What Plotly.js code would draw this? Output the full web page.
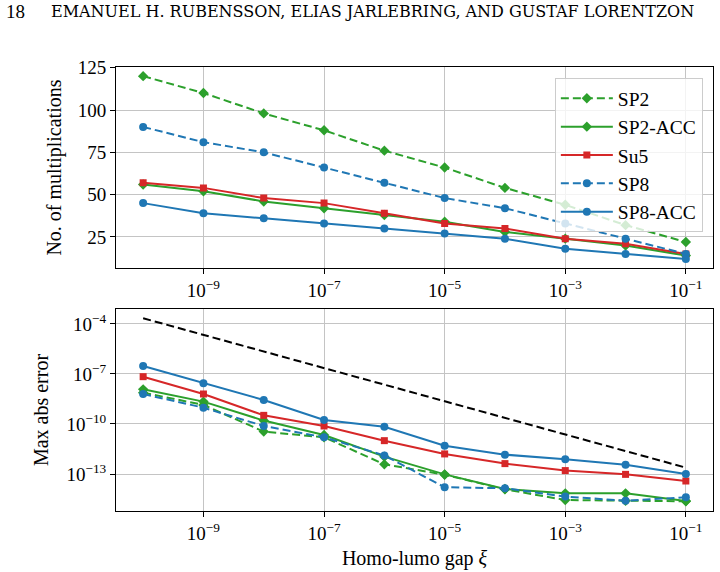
<!DOCTYPE html>
<html><head><meta charset="utf-8">
<script src="https://cdn.plot.ly/plotly-3.0.1.min.js"></script>
<style>html,body{margin:0;padding:0;background:#fff}#chart{width:720px;height:572px}</style>
</head><body><div id="chart"></div>
<script>
// Homo-lumo gap values (x)
const gap = [1e-10, 1e-9, 1e-8, 1e-7, 1e-6, 1e-5, 1e-4, 1e-3, 1e-2, 1e-1];

// Number of multiplications (top panel)
const multSP2    = [120, 110, 98, 88, 76, 66, 54, 44, 32, 22];
const multSP2ACC = [56, 52, 46, 42, 38, 34, 28, 24, 20, 14];
const multSu5    = [57, 54, 48, 45, 39, 33, 30, 24, 21, 15];
const multSP8    = [90, 81, 75, 66, 57, 48, 42, 33, 24, 15];
const multSP8ACC = [45, 39, 36, 33, 30, 27, 24, 18, 15, 12];

// Max abs error (bottom panel)
const errSP2    = [7.6e-9, 1.4e-9, 3.5e-11, 1.6e-11, 3.8e-13, 9.1e-14, 1.2e-14, 2.75e-15, 2.5e-15, 2.3e-15];
const errSP2ACC = [1.2e-8, 2.2e-9, 1.6e-10, 2.2e-11, 1.1e-12, 9.5e-14, 1.26e-14, 6.9e-15, 6.9e-15, 2.4e-15];
const errSu5    = [6.9e-8, 6.3e-9, 3.3e-10, 7.6e-11, 1.0e-11, 1.6e-12, 4.2e-13, 1.6e-13, 9.5e-14, 3.8e-14];
const errSP8    = [6.3e-9, 9.5e-10, 7.6e-11, 1.6e-11, 1.3e-12, 1.6e-14, 1.4e-14, 4.4e-15, 2.5e-15, 4.0e-15];
const errSP8ACC = [3.0e-7, 2.75e-8, 2.75e-9, 1.74e-10, 6.9e-11, 5.0e-12, 1.45e-12, 7.6e-13, 3.6e-13, 1.0e-13];
const errRef    = [2.2e-4, 2.2e-5, 2.2e-6, 2.2e-7, 2.2e-8, 2.2e-9, 2.2e-10, 2.2e-11, 2.2e-12, 2.4e-13];

// Labels
const seriesNames = ['SP2', 'SP2-ACC', 'Su5', 'SP8', 'SP8-ACC'];
const xTickVals = [1e-9, 1e-7, 1e-5, 1e-3, 1e-1];
const xTickText = ['10<sup>−9</sup>', '10<sup>−7</sup>', '10<sup>−5</sup>', '10<sup>−3</sup>', '10<sup>−1</sup>'];
const yTopTicks = [25, 50, 75, 100, 125];
const yBotTickVals = [1e-13, 1e-10, 1e-7, 1e-4];
const yBotTickText = ['10<sup>−13</sup>', '10<sup>−10</sup>', '10<sup>−7</sup>', '10<sup>−4</sup>'];
const headerPage = '18';
const headerText = 'EMANUEL H. RUBENSSON, ELIAS JARLEBRING, AND GUSTAF LORENTZON';

const blue = '#1f77b4', green = '#2ca02c', red = '#d62728';
const styles = [
  {color: green, dash: '8px,4px', symbol: 'diamond', size: 8},
  {color: green, dash: 'solid', symbol: 'diamond', size: 8},
  {color: red, dash: 'solid', symbol: 'square', size: 7},
  {color: blue, dash: '8px,4px', symbol: 'circle', size: 8},
  {color: blue, dash: 'solid', symbol: 'circle', size: 8}
];
const topData = [multSP2, multSP2ACC, multSu5, multSP8, multSP8ACC];
const botData = [errSP2, errSP2ACC, errSu5, errSP8, errSP8ACC];

const traces = [];
topData.forEach((d, i) => {
  const s = styles[i];
  traces.push({
    x: gap, y: d, name: seriesNames[i], type: 'scatter', mode: 'lines+markers',
    xaxis: 'x', yaxis: 'y', legendgroup: 'g' + i,
    line: {color: s.color, width: 2, dash: s.dash},
    marker: {color: s.color, symbol: s.symbol, size: s.size}
  });
});
botData.forEach((d, i) => {
  const s = styles[i];
  traces.push({
    x: gap, y: d, name: seriesNames[i], type: 'scatter', mode: 'lines+markers',
    xaxis: 'x2', yaxis: 'y2', showlegend: false, legendgroup: 'g' + i,
    line: {color: s.color, width: 2, dash: s.dash},
    marker: {color: s.color, symbol: s.symbol, size: s.size}
  });
});
traces.push({
  x: gap, y: errRef, type: 'scatter', mode: 'lines', xaxis: 'x2', yaxis: 'y2',
  showlegend: false, line: {color: '#000', width: 2, dash: '8px,4px'}
});

const fam = '"Liberation Serif", "Times New Roman", serif';
const font = {family: fam, size: 19, color: '#000'};
const titleFont = {family: fam, size: 20, color: '#000'};
const gridc = '#c4c4c4';
const axisCommon = {
  showline: true, mirror: true, linecolor: '#000', linewidth: 1,
  ticks: 'outside', ticklen: 5, tickwidth: 1, tickcolor: '#000',
  showgrid: true, gridcolor: gridc, gridwidth: 1, zeroline: false,
  tickfont: font
};

const layout = {
  width: 720, height: 572,
  margin: {l: 116, r: 7, t: 67, b: 61},
  paper_bgcolor: '#fff', plot_bgcolor: '#fff',
  font: font,
  showlegend: true,
  legend: {
    x: 0.983, y: 0.975, xanchor: 'right', yanchor: 'top',
    bgcolor: 'rgba(255,255,255,0.8)', bordercolor: '#cccccc', borderwidth: 1,
    font: {family: fam, size: 19.5, color: '#000'}, traceorder: 'grouped', tracegroupgap: 0,
    itemwidth: 52
  },
  xaxis: Object.assign({}, axisCommon, {
    type: 'log', range: [-10.45, -0.55], anchor: 'y', domain: [0, 1],
    tickvals: xTickVals, ticktext: xTickText
  }),
  yaxis: Object.assign({}, axisCommon, {
    range: [6.6, 125.4], domain: [0.547, 1], anchor: 'x',
    tickvals: yTopTicks,
    title: {text: 'No. of multiplications', font: titleFont, standoff: 10}
  }),
  xaxis2: Object.assign({}, axisCommon, {
    type: 'log', range: [-10.45, -0.55], anchor: 'y2', domain: [0, 1],
    tickvals: xTickVals, ticktext: xTickText,
    title: {text: 'Homo-lumo gap <i>ξ</i>', font: titleFont, standoff: 8}
  }),
  yaxis2: Object.assign({}, axisCommon, {
    type: 'log', range: [-15.22, -3.1], domain: [0, 0.455], anchor: 'x2',
    tickvals: yBotTickVals, ticktext: yBotTickText,
    title: {text: 'Max abs error', font: titleFont, standoff: 12}
  }),
  annotations: [
    {text: headerPage, xref: 'paper', yref: 'paper', x: -0.188, y: 1.125, xanchor: 'left', yanchor: 'middle',
     showarrow: false, font: {family: fam, size: 19, color: '#000'}},
    {text: headerText, xref: 'paper', yref: 'paper',
     x: -0.112, y: 1.125, xanchor: 'left', yanchor: 'middle', showarrow: false,
     font: {family: '"DejaVu Serif", serif', size: 16, color: '#000'}}
  ]
};

Plotly.newPlot('chart', traces, layout, {displayModeBar: false, staticPlot: true});
</script>
</body></html>
